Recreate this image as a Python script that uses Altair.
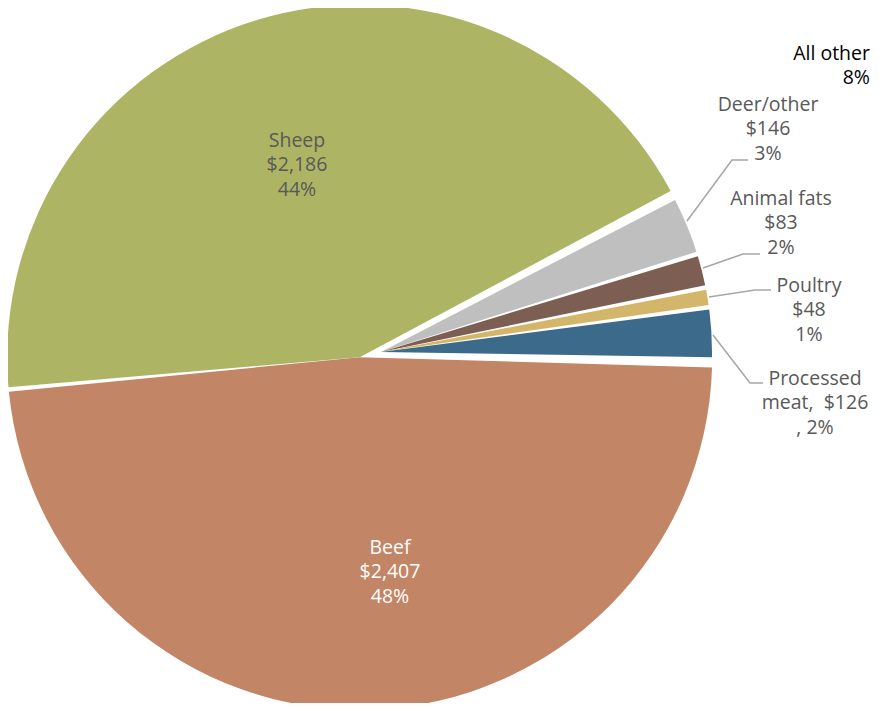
import math
import altair as alt
import pandas as pd

# ---- data -------------------------------------------------------------
categories = ["Beef", "Sheep", "Deer/other", "Animal fats", "Poultry", "Processed meat"]
values = [2407, 2186, 146, 83, 48, 126]
colors = ["#C28566", "#ADB464", "#BFBFBF", "#7D5E52", "#D4B66A", "#3C6A8A"]
exploded = [False, False, True, True, True, True]

# label text (one list of lines per label)
label_lines = {
    "Beef": ["Beef", "$2,407", "48%"],
    "Sheep": ["Sheep", "$2,186", "44%"],
    "Deer/other": ["Deer/other", "$146", "3%"],
    "Animal fats": ["Animal fats", "$83", "2%"],
    "Poultry": ["Poultry", "$48", "1%"],
    "Processed meat": ["Processed", "meat,\u00a0 $126", ", 2%"],
    "All other": ["All other", "8%"],
}

# ---- layout (annotation placement, pixels in the view) ----------------
label_pos = {
    "Beef": (382, 539.5, "#FFFFFF", "center"),
    "Sheep": (289, 132.5, "#595959", "center"),
    "Deer/other": (760, 96.5, "#595959", "center"),
    "Animal fats": (773, 190.5, "#595959", "center"),
    "Poultry": (801, 277.5, "#595959", "center"),
    "Processed meat": (807, 370.5, "#595959", "center"),
    "All other": (862, 45.5, "#000000", "right"),
}
line_h = 24.7
leaders = {
    "Deer/other": [(679, 213), (724, 152), (740, 152)],
    "Animal fats": [(695, 260), (735, 246), (752, 246)],
    "Poultry": [(701, 289), (747, 282), (763, 282)],
    "Processed meat": [(705, 327), (742, 375), (755, 375)],
}

W, H = 863, 695
FONT = "Open Sans"
FS = 19.5

big_center = (351.7, 349.2)
big_r = 352.5
small_center = (373, 344)
small_r = 331

total = sum(values)
start = math.radians(91.3)

pie_df = pd.DataFrame({
    "category": categories,
    "value": values,
    "order": list(range(len(categories))),
    "exploded": exploded,
})

theta_scale = alt.Scale(domain=[0, total], range=[start, start + 2 * math.pi])
color_scale = alt.Scale(domain=categories, range=colors)

base = alt.Chart(pie_df).transform_stack(
    stack="value", groupby=[], as_=["v0", "v1"],
    sort=[alt.SortField("order", order="ascending")],
)

big = base.transform_filter("!datum.exploded").mark_arc(
    radius=big_r, padAngle=0.013
).encode(
    theta=alt.Theta("v0:Q", scale=theta_scale),
    theta2="v1:Q",
    color=alt.Color("category:N", scale=color_scale, legend=None),
    x=alt.value(big_center[0]),
    y=alt.value(big_center[1]),
)

small = base.transform_filter("datum.exploded").mark_arc(
    radius=small_r, padAngle=0.014
).encode(
    theta=alt.Theta("v0:Q", scale=theta_scale),
    theta2="v1:Q",
    color=alt.Color("category:N", scale=color_scale, legend=None),
    x=alt.value(small_center[0]),
    y=alt.value(small_center[1]),
)

# ---- labels -----------------------------------------------------------
rows = []
for key, lines in label_lines.items():
    x, y0, col, al = label_pos[key]
    for i, t in enumerate(lines):
        rows.append({"text": t, "x": x, "y": y0 + i * line_h, "color": col, "align": al})
lab_df = pd.DataFrame(rows)

def text_layer(al):
    return alt.Chart(lab_df).transform_filter(f"datum.align == '{al}'").mark_text(
        font=FONT, fontSize=FS, align=al, baseline="middle"
    ).encode(
        x=alt.X("x:Q", scale=None, axis=None),
        y=alt.Y("y:Q", scale=None, axis=None),
        text="text:N",
        color=alt.Color("color:N", scale=None),
    )

lrows = []
for key, pts in leaders.items():
    for i, (x, y) in enumerate(pts):
        lrows.append({"id": key, "i": i, "x": x, "y": y})
lead_df = pd.DataFrame(lrows)

lead = alt.Chart(lead_df).mark_line(color="#A6A6A6", strokeWidth=1.5).encode(
    x=alt.X("x:Q", scale=None, axis=None),
    y=alt.Y("y:Q", scale=None, axis=None),
    detail="id:N",
    order="i:Q",
)

chart = alt.layer(big, small, lead, text_layer("center"), text_layer("right")).properties(
    width=W, height=H, padding=0, autosize=alt.AutoSizeParams(type="none"),
    background="white",
).configure_view(stroke=None)

chart.save("out.html", embed_options={"renderer": "svg", "actions": False})
